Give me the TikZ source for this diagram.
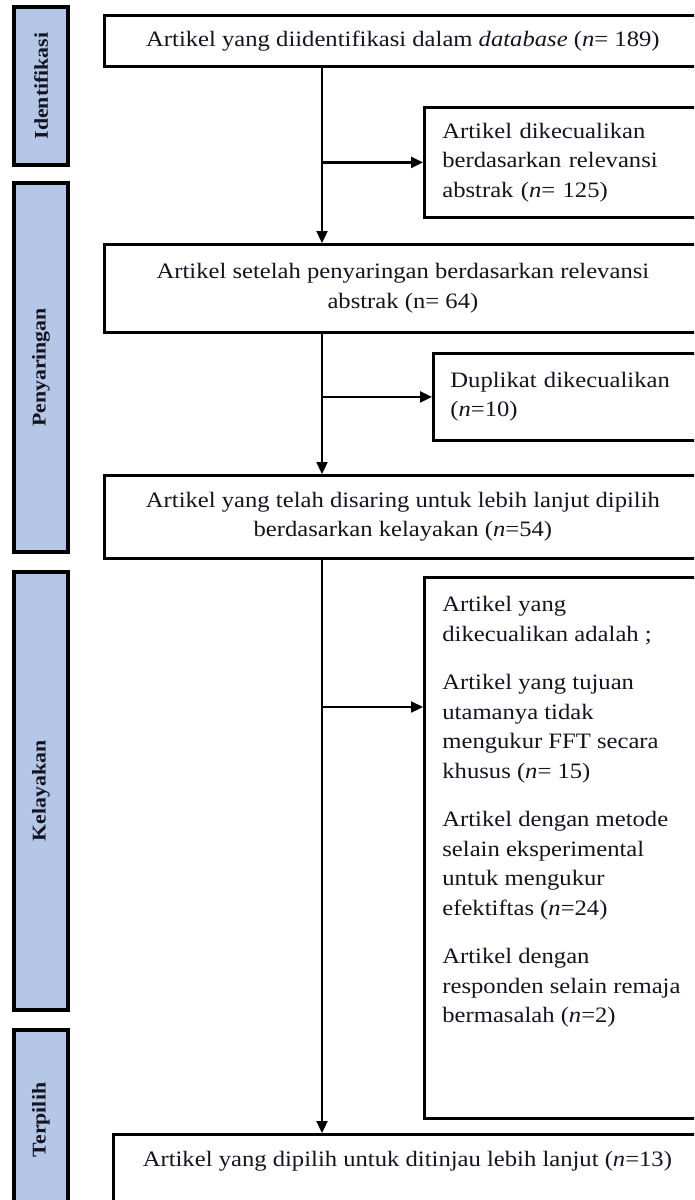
\documentclass[tikz,border=0pt]{standalone}
\usepackage{fontspec}
\setmainfont{Liberation Serif}[FakeStretch=1.12]
\usetikzlibrary{arrows.meta,calc}
\definecolor{labfill}{HTML}{B4C7E7}
\definecolor{ink}{HTML}{141420}
\newcommand\myfs{\fontsize{22}{29.5}\selectfont}
\newcommand\mylabfs{\fontsize{19.5}{22}\selectfont\bfseries}
\begin{document}
\begin{tikzpicture}[x=1pt,y=-1pt,
  box/.style={draw=black, line width=2.8pt, fill=white, font=\myfs, text=ink, inner sep=0pt},
  lab/.style={draw=black, line width=3.2pt, fill=labfill, font=\mylabfs, text=ink, rotate=90, inner sep=0pt},
  conn/.style={draw=black, line width=2.3pt},
  arr/.style={conn, -{Triangle[length=12pt,width=11pt]}}]
\useasboundingbox (0,0) rectangle (694,1200);
\clip (0,0) rectangle (694,1200);
\fill[white] (0,0) rectangle (694,1200);

% phase labels
\node[lab, minimum width=158pt, minimum height=54pt] (l1) at (41,86) {Identifikasi};
\node[lab, minimum width=369pt, minimum height=54pt] (l2) at (41,367.5) {Penyaringan};
\node[lab, minimum width=438pt, minimum height=54pt] (l3) at (41,791) {Kelayakan};
\node[lab, minimum width=180pt, minimum height=54pt] (l4) at (41,1120) {Terpilih};

% main boxes
\node[box, anchor=north west, minimum width=597pt, minimum height=51pt, align=center] (b1) at (103,14)
  {Artikel yang diidentifikasi dalam \textit{database} (\textit{n}= 189)};
\node[box, anchor=north west, minimum height=110pt, align=left, text width=250pt, inner xsep=18pt] (b2) at (423,106)
  {Artikel dikecualikan\\berdasarkan relevansi\\abstrak (\textit{n}= 125)};
\node[box, anchor=north west, minimum width=597pt, minimum height=88pt, align=center] (b3) at (103,243)
  {Artikel setelah penyaringan berdasarkan relevansi\\abstrak (n= 64)};
\node[box, anchor=north west, minimum height=87pt, align=left, text width=250pt, inner xsep=17pt] (b4) at (432,352)
  {Duplikat dikecualikan\\(\textit{n}=10)};
\node[box, anchor=north west, minimum width=597pt, minimum height=83pt, align=center] (b5) at (103,474)
  {Artikel yang telah disaring untuk lebih lanjut dipilih\\berdasarkan kelayakan (\textit{n}=54)};
\node[box, anchor=north west, inner xsep=18pt, inner ysep=19pt] (b6) at (423,576)
  {\begin{minipage}[t][503pt][t]{250pt}\raggedright
   Artikel yang\\dikecualikan adalah ;\\[19pt]
   Artikel yang tujuan\\utamanya tidak\\mengukur FFT secara\\khusus (\textit{n}= 15)\\[19pt]
   Artikel dengan metode\\selain eksperimental\\untuk mengukur\\efektiftas (\textit{n}=24)\\[19pt]
   Artikel dengan\\responden selain remaja\\bermasalah (\textit{n}=2)
   \end{minipage}};
\node[box, anchor=north west, inner xsep=14pt, inner ysep=17pt] (b7) at (112,1133)
  {\begin{minipage}[t][80pt][t]{560pt}\centering
   Artikel yang dipilih untuk ditinjau lebih lanjut (\textit{n}=13)
   \end{minipage}};

% connectors
\coordinate (s1) at (322,0);
\coordinate (k6) at (423,707);
\draw[arr] (b1.south -| s1) -- (b3.north -| s1);
\draw[arr] (b2.west -| s1) -- (b2.west);
\draw[arr] (b3.south -| s1) -- (b5.north -| s1);
\draw[arr] (b4.west -| s1) -- (b4.west);
\draw[arr] (b5.south -| s1) -- (b7.north -| s1);
\draw[arr] (k6 -| s1) -- (b6.west |- k6);
\end{tikzpicture}
\end{document}
